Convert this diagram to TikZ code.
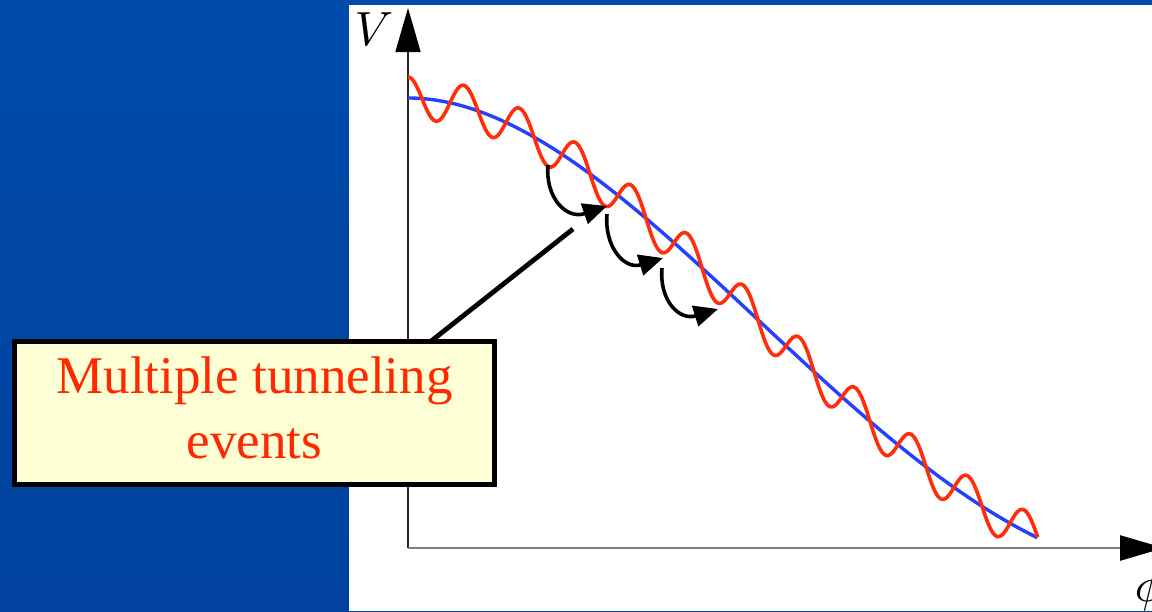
\documentclass[tikz,border=0pt]{standalone}
\usepackage{fontspec}
\newfontfamily\timesfont{Liberation Serif}
\usetikzlibrary{arrows.meta}
\definecolor{bgblue}{RGB}{0,74,170}
\definecolor{bgblue2}{RGB}{0,66,158}
\definecolor{curvered}{RGB}{255,45,10}
\definecolor{curveblue}{RGB}{35,65,255}
\definecolor{boxfill}{RGB}{255,255,214}
\definecolor{labelred}{RGB}{255,40,0}
\definecolor{axisgray}{RGB}{125,125,125}
\tikzset{
  axisline/.style={line width=1.6pt, black!85},
  phiaxis/.style={axisgray, line width=2.6pt},
  bigtip/.style={-{Triangle[length=44pt,width=25pt,color=black]}},
  tunnelarrow/.style={line width=3.6pt, black, -{Triangle[length=24pt,width=21pt]}},
  pointer/.style={line width=4.8pt, black},
  labelbox/.style={draw=black, line width=5pt, fill=boxfill, minimum width=480pt, minimum height=143pt, inner sep=0pt},
  labeltext/.style={anchor=base, inner sep=0pt, text=labelred, font=\timesfont\fontsize{53}{53}\selectfont},
  axislabel/.style={anchor=base, inner sep=0pt, scale=4.8},
  declare function={gb(\t)=2.58*\t^2-1.86*\t^3+0.28*\t^4; yb(\t)=98+440*gb(\t); yr(\t)=yb(\t)-21*cos(4050*\t);}
}
\begin{document}
\begin{tikzpicture}[x=1pt,y=-1pt]
\useasboundingbox (0,0) rectangle (1152,611);
\clip (0,0) rectangle (1152,611);
% background
\shade[top color=bgblue, bottom color=bgblue2] (0,0) rectangle (1152,611);
\fill[white] (349,5) rectangle (1152,611);
% axes
\coordinate (O) at (408,548);
\coordinate (Vtip) at (408,8);
\coordinate (Ptip) at (1164,548);
\draw[axisline, bigtip] (O) -- (Vtip);
\draw[phiaxis, bigtip] (O) -- (Ptip);
\node[axislabel] (Vlab) at (374,45) {$V$};
\node[axislabel] (Plab) at (1149,601) {$\phi$};
% curves
\draw[curveblue, line width=3.4pt] plot[domain=0:1, samples=200] ({408+630*\x},{yb(\x)});
\draw[curvered, line width=3.6pt, line join=round] plot[domain=0:1, samples=500] ({408+630*\x},{yr(\x)});
% tunneling arrows
\coordinate (a1s) at (548,165);
\coordinate (a1e) at (607,206);
\coordinate (a2s) at (607,214);
\coordinate (a2e) at (663,258);
\coordinate (a3s) at (662,268);
\coordinate (a3e) at (718,309);
\draw[tunnelarrow] (a1s) .. controls (545,197) and (566,220) .. (a1e);
\draw[tunnelarrow] (a2s) .. controls (604,246) and (624,270) .. (a2e);
\draw[tunnelarrow] (a3s) .. controls (659,300) and (679,321) .. (a3e);
% pointer and label
\coordinate (p1) at (430,342);
\coordinate (p2) at (573,229);
\draw[pointer] (p1) -- (p2);
\node[labelbox] (tbox) at (254.5,413) {};
\node[labeltext] (t1) at (254.5,393) {Multiple tunneling};
\node[labeltext] (t2) at (254.5,458) {events};
\end{tikzpicture}
\end{document}
